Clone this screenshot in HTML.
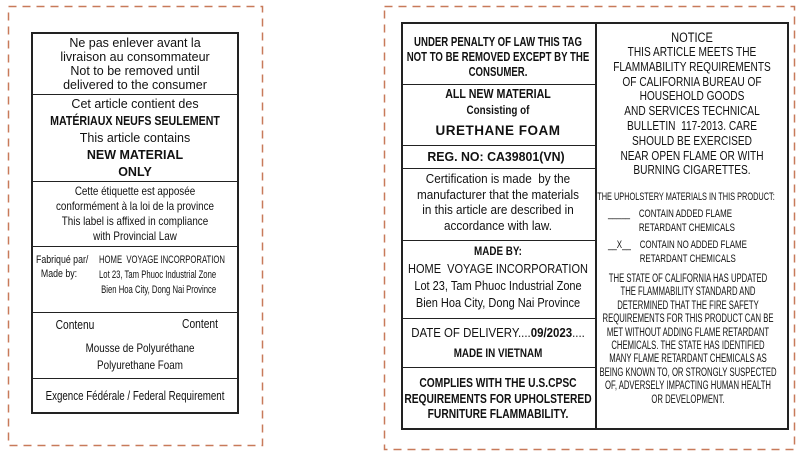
<!DOCTYPE html>
<html><head><meta charset="utf-8"><style>
*{margin:0;padding:0;box-sizing:border-box}
body{width:800px;height:456px;background:#fff;position:relative;overflow:hidden;font-family:"Liberation Sans",Arial,sans-serif;color:#111}
.box{position:absolute;border:2px solid #222}
.hl{position:absolute;height:0;border-top:1.5px solid #222}
.t{position:absolute;white-space:nowrap;text-align:center;transform:translateX(-50%)}
.c{position:absolute;white-space:nowrap;text-align:center;transform:translateX(-50%) scaleX(0.82)}
.l{position:absolute;white-space:nowrap;text-align:left;transform-origin:left top}
b{font-weight:bold}
</style></head><body>
<svg width="800" height="456" style="position:absolute;left:0;top:0">
<rect x="8.5" y="6.5" width="254" height="439" fill="none" stroke="#c87a5a" stroke-width="1.5" stroke-dasharray="8,6"/>
<rect x="384.5" y="6.5" width="410" height="443" fill="none" stroke="#c87a5a" stroke-width="1.5" stroke-dasharray="8,6"/>
</svg>
<div class="box" style="left:31px;top:32px;width:208px;height:382px"></div>
<div class="hl" style="left:31px;top:94px;width:208px"></div>
<div class="hl" style="left:31px;top:181px;width:208px"></div>
<div class="hl" style="left:31px;top:246px;width:208px"></div>
<div class="hl" style="left:31px;top:312px;width:208px"></div>
<div class="hl" style="left:31px;top:378px;width:208px"></div>

<div class="t" style="left:135px;top:36px;font-size:12.5px;line-height:14px">Ne pas enlever avant la<br>livraison au consommateur<br>Not to be removed until<br>delivered to the consumer</div>
<div class="t" style="left:135px;top:96px;font-size:12.5px;line-height:17px">Cet article contient des<br><b style="display:inline-block;transform:scaleX(.85)">MATÉRIAUX NEUFS SEULEMENT</b><br>This article contains<br><b>NEW MATERIAL</b><br><b>ONLY</b></div>
<div class="c" style="left:135px;top:184px;font-size:12px;line-height:15px">Cette étiquette est apposée<br>conformément à la loi de la province<br>This label is affixed in compliance<br>with Provincial Law</div>
<div class="l" style="left:36px;top:253px;font-size:11px;line-height:14px;transform:scaleX(.8)">Fabriqué par/<br>&nbsp;&nbsp;Made by:</div>
<div class="l" style="left:99px;top:253px;font-size:11px;line-height:15px;transform:scaleX(.7)">HOME&nbsp; VOYAGE INCORPORATION<br>Lot 23, Tam Phuoc Industrial Zone<br>&nbsp;Bien Hoa City, Dong Nai Province</div>
<div class="c" style="left:75px;top:318px;font-size:12.5px">Contenu</div>
<div class="c" style="left:200px;top:317px;font-size:12.5px">Content</div>
<div class="c" style="left:140px;top:340px;font-size:12px;line-height:17px">Mousse de Polyuréthane<br>Polyurethane Foam</div>
<div class="c" style="left:135px;top:389px;font-size:12.5px;transform:translateX(-50%) scaleX(.78)">Exgence Fédérale / Federal Requirement</div>

<div class="box" style="left:401px;top:22px;width:388px;height:408px"></div>
<div style="position:absolute;left:595px;top:22px;height:408px;border-left:2px solid #222"></div>
<div class="hl" style="left:401px;top:84px;width:195px"></div>
<div class="hl" style="left:401px;top:145px;width:195px"></div>
<div class="hl" style="left:401px;top:168px;width:195px"></div>
<div class="hl" style="left:401px;top:240px;width:195px"></div>
<div class="hl" style="left:401px;top:318px;width:195px"></div>
<div class="hl" style="left:401px;top:367px;width:195px"></div>

<div class="c" style="left:498px;top:35px;font-size:12.5px;line-height:15px;font-weight:bold;transform:translateX(-50%) scaleX(.77)">UNDER PENALTY OF LAW THIS TAG<br>NOT TO BE REMOVED EXCEPT BY THE<br>CONSUMER.</div>
<div class="c" style="left:498px;top:86px;font-size:13px;line-height:16px;font-weight:bold">ALL NEW MATERIAL<br><span style="font-size:12px">Consisting of</span></div>
<div class="t" style="left:498px;top:123px;font-size:13.5px;font-weight:bold;letter-spacing:.5px">URETHANE FOAM</div>
<div class="t" style="left:496px;top:149px;font-size:13px;font-weight:bold;transform:translateX(-50%) scaleX(.95)">REG. NO: CA39801(VN)</div>
<div class="c" style="left:498px;top:171px;font-size:13px;line-height:15.5px;transform:translateX(-50%) scaleX(.9)">Certification is made&nbsp; by the<br>manufacturer that the materials<br>in this article are described in<br>accordance with law.</div>
<div class="c" style="left:498px;top:244px;font-size:12px;font-weight:bold">MADE BY:</div>
<div class="c" style="left:498px;top:261px;font-size:12.5px;line-height:17px;transform:translateX(-50%) scaleX(.88)">HOME&nbsp; VOYAGE INCORPORATION<br>Lot 23, Tam Phuoc Industrial Zone<br>Bien Hoa City, Dong Nai Province</div>
<div class="c" style="left:498px;top:325px;font-size:13px;transform:translateX(-50%) scaleX(.88)">DATE OF DELIVERY....<b>09/2023</b>....</div>
<div class="c" style="left:498px;top:346px;font-size:12px;font-weight:bold">MADE IN VIETNAM</div>
<div class="c" style="left:498px;top:376px;font-size:12.5px;line-height:15.5px;font-weight:bold">COMPLIES WITH THE U.S.CPSC<br>REQUIREMENTS FOR UPHOLSTERED<br>FURNITURE FLAMMABILITY.</div>

<div class="c" style="left:692px;top:30px;font-size:13.5px;line-height:15px">NOTICE</div>
<div class="c" style="left:692px;top:45px;font-size:13px;line-height:14.8px;transform:translateX(-50%) scaleX(.78)">THIS ARTICLE MEETS THE<br>FLAMMABILITY REQUIREMENTS<br>OF CALIFORNIA BUREAU OF<br>HOUSEHOLD GOODS<br>AND SERVICES TECHNICAL<br>BULLETIN&nbsp; 117-2013. CARE<br>SHOULD BE EXERCISED<br>NEAR OPEN FLAME OR WITH<br>BURNING CIGARETTES.</div>
<div class="c" style="left:686px;top:191px;font-size:11px;transform:translateX(-50%) scaleX(.67)">THE UPHOLSTERY MATERIALS IN THIS PRODUCT:</div>
<div class="l" style="left:608px;top:207px;font-size:11px;line-height:14px;transform:scaleX(.72)">_____&nbsp;&nbsp;&nbsp; CONTAIN ADDED FLAME<br><span style="visibility:hidden">_____&nbsp;&nbsp;&nbsp;</span> RETARDANT CHEMICALS</div>
<div class="l" style="left:608px;top:238px;font-size:11px;line-height:14px;transform:scaleX(.72)">__X__&nbsp;&nbsp;&nbsp; CONTAIN NO ADDED FLAME<br><span style="visibility:hidden">__X__&nbsp;&nbsp;&nbsp;</span> RETARDANT CHEMICALS</div>
<div class="c" style="left:688px;top:273px;font-size:11.5px;line-height:13.4px;transform:translateX(-50%) scaleX(.67)">THE STATE OF CALIFORNIA HAS UPDATED<br>THE FLAMMABILITY STANDARD AND<br>DETERMINED THAT THE FIRE SAFETY<br>REQUIREMENTS FOR THIS PRODUCT CAN BE<br>MET WITHOUT ADDING FLAME RETARDANT<br>CHEMICALS. THE STATE HAS IDENTIFIED<br>MANY FLAME RETARDANT CHEMICALS AS<br>BEING KNOWN TO, OR STRONGLY SUSPECTED<br>OF, ADVERSELY IMPACTING HUMAN HEALTH<br>OR DEVELOPMENT.</div>
</body></html>
